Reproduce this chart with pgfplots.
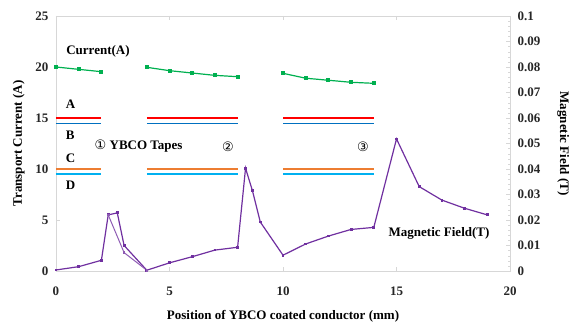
\documentclass[border=0pt]{standalone}
\usepackage{pgfplots}
\pgfplotsset{compat=1.18}
\usepackage{fontspec}
\setmainfont{Liberation Serif}
\newfontfamily\symfont{DejaVu Sans}

\definecolor{curgreen}{RGB}{0,176,80}
\definecolor{lineA}{RGB}{255,0,0}
\definecolor{lineB}{RGB}{0,112,192}
\definecolor{lineC}{RGB}{237,125,49}
\definecolor{lineD}{RGB}{0,176,240}
\definecolor{field}{RGB}{112,48,160}
\definecolor{frame}{RGB}{215,215,215}

\begin{document}
\begin{tikzpicture}[font=\bfseries\fontsize{13}{15}\selectfont]
\pgfplotsset{
  base/.style={
    scale only axis, width=454pt, height=255pt,
    xmin=0, xmax=20,
    tick style={draw=frame},
    axis line style={draw=frame},
    tick align=inside,
    tick label style={font=\bfseries\fontsize{13}{15}\selectfont, text=black!85},
    /pgf/number format/assume math mode=true,
  }
}
% transport current and tape positions
\begin{axis}[base,
  ymin=0, ymax=25,
  xtick={0,5,...,20}, ytick={0,5,...,25},
  xticklabel style={yshift=-12pt},
  yticklabel style={xshift=-4pt},
  xlabel={Position of YBCO coated conductor (mm)},
  ylabel={Transport Current (A)},
  xlabel style={yshift=-8pt},
  ylabel style={yshift=4pt},
]
% tapes A-D
\foreach \a/\b in {0/2,4/8,10/14}{
  \edef\tmp{\noexpand\addplot[lineA, line width=1.8pt, forget plot] coordinates {(\a,15) (\b,15)};}\tmp
  \edef\tmp{\noexpand\addplot[lineB, line width=1.1pt, forget plot] coordinates {(\a,14.5) (\b,14.5)};}\tmp
  \edef\tmp{\noexpand\addplot[lineC, line width=1.8pt, forget plot] coordinates {(\a,10) (\b,10)};}\tmp
  \edef\tmp{\noexpand\addplot[lineD, line width=1.8pt, forget plot] coordinates {(\a,9.5) (\b,9.5)};}\tmp
}
% current
\addplot[curgreen, line width=1.2pt, mark=square*, mark size=1.4pt]
  coordinates {(0,20.0) (1,19.77) (2,19.54)};
\addplot[curgreen, line width=1.2pt, mark=square*, mark size=1.4pt]
  coordinates {(4,19.97) (5,19.64) (6,19.41) (7,19.18) (8,19.05)};
\addplot[curgreen, line width=1.2pt, mark=square*, mark size=1.4pt]
  coordinates {(10,19.38) (11,18.9) (12,18.7) (13,18.5) (14,18.4)};

\node[anchor=west] at (axis cs:0.3,21.5) {Current(A)};
\node[anchor=west] at (axis cs:0.28,16.4) {A};
\node[anchor=west] at (axis cs:0.28,13.3) {B};
\node[anchor=west] at (axis cs:0.28,11.1) {C};
\node[anchor=west] at (axis cs:0.28,8.4) {D};
\node[anchor=west] at (axis cs:1.55,12.2) {{\symfont\mdseries ①} YBCO Tapes};
\node at (axis cs:7.58,12.2) {\symfont\mdseries ②};
\node at (axis cs:13.52,12.2) {\symfont\mdseries ③};
\node[anchor=west] at (axis cs:14.5,3.7) {Magnetic Field(T)};
\end{axis}

% magnetic field on the right axis
\begin{axis}[base,
  ymin=0, ymax=0.1,
  axis x line=none,
  axis y line*=right,
  ytick={0,0.01,...,0.1},
  yticklabels={0,0.01,0.02,0.03,0.04,0.05,0.06,0.07,0.08,0.09,0.1},
  minor y tick num=4,
  minor tick length=2pt,
  yticklabel style={xshift=4pt},
  ylabel={Magnetic Field (T)},
  ylabel style={rotate=180, yshift=10pt},
]
\addplot[field, line width=1.2pt, mark=square*, mark size=0.8pt]
  coordinates {(0,0.0004) (1,0.0017) (2,0.0042) (2.3,0.0220) (2.7,0.0228)
    (3,0.0100) (4,0.0003) (5,0.0032) (6,0.0056) (7,0.0082) (8,0.0093)
    (8.35,0.0403) (8.65,0.0316) (9,0.0192) (10,0.0062) (11,0.0106)
    (12,0.0137) (13,0.0163) (14,0.0171) (15,0.0518) (16,0.0331)
    (17,0.0278) (18,0.0246) (19,0.0220)};
\addplot[field!80, line width=1.0pt, mark=square*, mark size=0.8pt]
  coordinates {(2.3,0.0220) (3,0.0072) (4,0.0003)};
\end{axis}

\pgfresetboundingbox
\path[use as bounding box] (current axis.south west) ++(-56pt,-55pt) rectangle ++(578pt,326pt);
\end{tikzpicture}
\end{document}
